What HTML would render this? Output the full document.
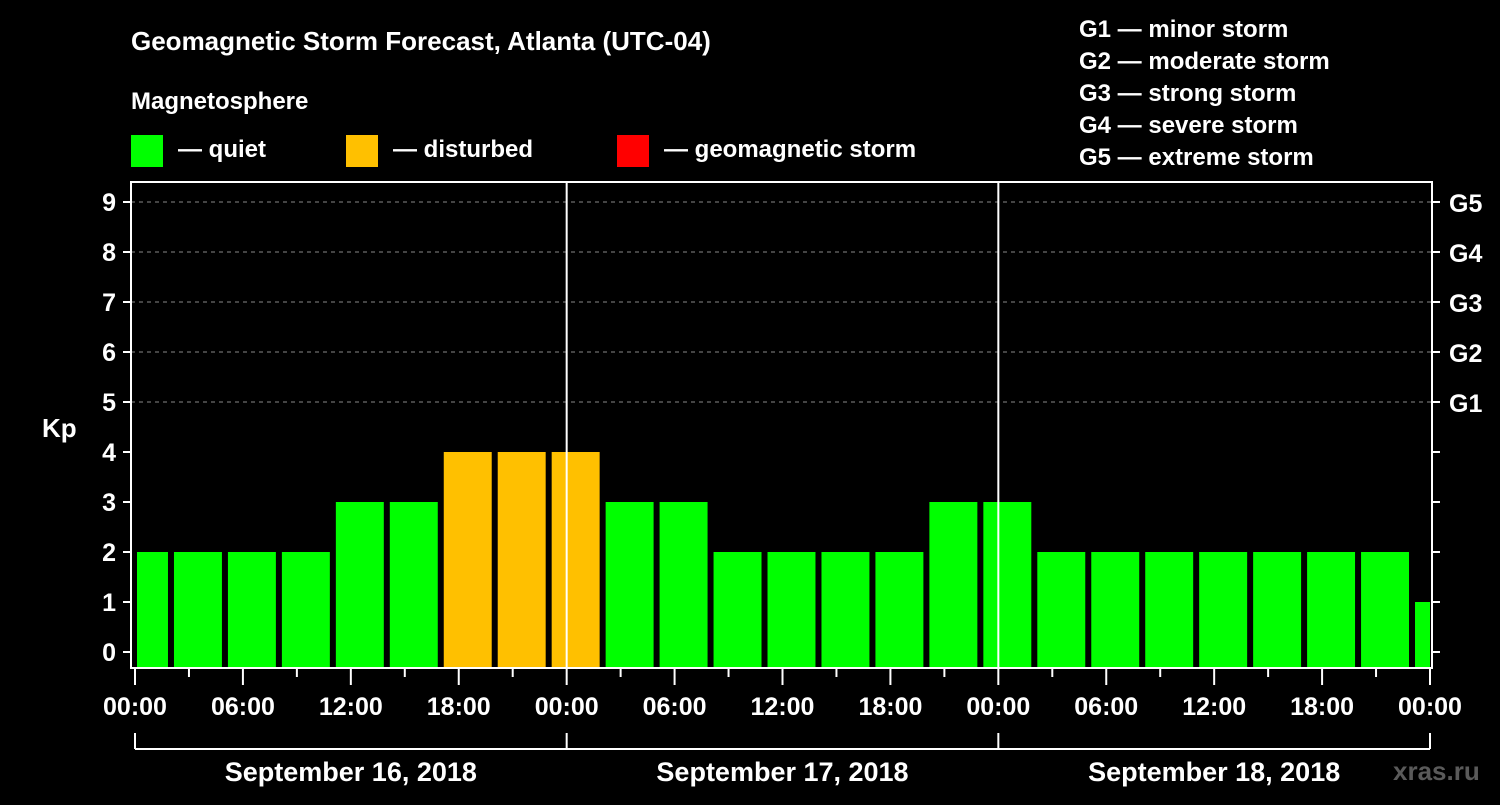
<!DOCTYPE html>
<html><head><meta charset="utf-8"><style>
body{margin:0;background:#000;width:1500px;height:800px;overflow:hidden}
text{font-family:"Liberation Sans",sans-serif;font-weight:bold;fill:#fff}
</style></head><body>
<svg id="c" width="1500" height="800">
<rect width="1500" height="800" fill="#000"/>
<text x="131" y="50" font-size="26">Geomagnetic Storm Forecast, Atlanta (UTC-04)</text>
<text x="131" y="109" font-size="24">Magnetosphere</text>
<g><rect x="131" y="135" width="32" height="32" fill="#00ff00"/><text x="178" y="157" font-size="24">— quiet</text></g>
<g><rect x="346" y="135" width="32" height="32" fill="#ffc000"/><text x="393" y="157" font-size="24">— disturbed</text></g>
<g><rect x="617" y="135" width="32" height="32" fill="#ff0000"/><text x="664" y="157" font-size="24">— geomagnetic storm</text></g>
<g font-size="24">
<text x="1079" y="37">G1 — minor storm</text>
<text x="1079" y="69">G2 — moderate storm</text>
<text x="1079" y="101">G3 — strong storm</text>
<text x="1079" y="133">G4 — severe storm</text>
<text x="1079" y="165">G5 — extreme storm</text>
</g>
<text x="42" y="437" font-size="26">Kp</text>
<text x="1393" y="780" font-size="26" fill="#555" style="fill:#5a5a5a">xras.ru</text>
<g id="plot"></g>
</svg>
<script>
const kpValues=[2,2,2,2,3,3,4,4,4,3,3,2,2,2,2,3,3,2,2,2,2,2,2,2,1];
const barStartHours=[-1,2,5,8,11,14,17,20,23,26,29,32,35,38,41,44,47,50,53,56,59,62,65,68,71];
const xTickLabels=["00:00","06:00","12:00","18:00","00:00","06:00","12:00","18:00","00:00","06:00","12:00","18:00","00:00"];
const dateLabels=["September 16, 2018","September 17, 2018","September 18, 2018"];
const gLabels=["G1","G2","G3","G4","G5"];
const NS="http://www.w3.org/2000/svg";
const g=document.getElementById('plot');
const L=131,R=1432,T=182,B=668,X0=135,X1=1430;
const x=h=>X0+(X1-X0)*h/72;
const y=v=>652-50*v;
function mk(t,a,p){const e=document.createElementNS(NS,t);for(const k in a)e.setAttribute(k,a[k]);(p||g).appendChild(e);return e;}
for(let v=5;v<=9;v++){
  const l=mk('line',{x1:L,x2:R,y1:y(v),y2:y(v),stroke:'#888','stroke-dasharray':'4,4','stroke-width':1});
  
  
}
kpValues.forEach((v,i)=>{
  const h0=Math.max(0,barStartHours[i]),h1=Math.min(72,barStartHours[i]+3);
  const xa=x(h0)+(barStartHours[i]<0?2:3),xb=x(h1)-(barStartHours[i]+3>72?0:3);
  const c=v>=5?'#ff0000':(v>=4?'#ffc000':'#00ff00');
  const r=mk('rect',{x:xa,y:y(v),width:xb-xa,height:B-y(v),fill:c});
  
  
});
[24,48].forEach(h=>{const l=mk('line',{x1:x(h),x2:x(h),y1:T,y2:B,stroke:'#fff','stroke-width':2});
  
  });
const fr=mk('rect',{x:L,y:T,width:R-L,height:B-T,fill:'none',stroke:'#fff','stroke-width':2});


for(let v=0;v<=9;v++){
  mk('line',{x1:L-8,x2:L,y1:y(v),y2:y(v),stroke:'#fff','stroke-width':2});
  mk('line',{x1:R,x2:R+8,y1:y(v),y2:y(v),stroke:'#fff','stroke-width':2});
  const t=mk('text',{x:L-15,y:y(v)+9,'font-size':25,'text-anchor':'end'});t.textContent=v;
  
  
}
gLabels.forEach((s,i)=>{const t=mk('text',{x:R+17,y:y(5+i)+10,'font-size':25});t.textContent=s;
  
  });
for(let h=0;h<=72;h+=3){mk('line',{x1:x(h),x2:x(h),y1:B,y2:B+(h%6?9:17),stroke:'#fff','stroke-width':2});}
xTickLabels.forEach((s,i)=>{const t=mk('text',{x:x(i*6),y:715,'font-size':25,'text-anchor':'middle'});t.textContent=s;
  
  });
mk('line',{x1:x(0),x2:x(72),y1:749,y2:749,stroke:'#fff','stroke-width':2});
for(let d=0;d<=3;d++)mk('line',{x1:x(d*24),x2:x(d*24),y1:733,y2:749,stroke:'#fff','stroke-width':2});
dateLabels.forEach((s,i)=>{const t=mk('text',{x:x(i*24+12),y:781,'font-size':27,'text-anchor':'middle'});t.textContent=s;
  
  });
</script>
</body></html>
